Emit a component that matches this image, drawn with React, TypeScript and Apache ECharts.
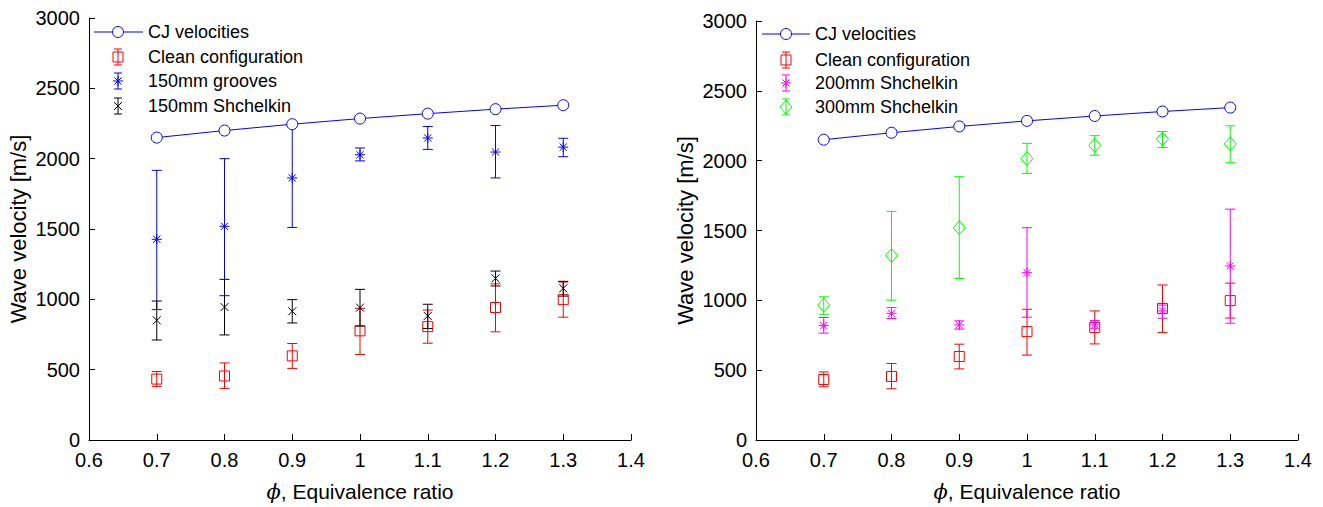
import React, { useEffect, useRef } from "react";
import * as echarts from "echarts";

// ---------------- data ----------------
const phi = [0.7, 0.8, 0.9, 1.0, 1.1, 1.2, 1.3];
const cjVelocities = [2150, 2200, 2245, 2285, 2320, 2352, 2380];

const cleanMean = [433, 455, 598, 776, 806, 942, 998];
const cleanLow = [381, 367, 509, 608, 688, 769, 873];
const cleanHigh = [487, 548, 686, 936, 924, 1110, 1123];

const grooves150Mean = [1427, 1519, 1863, 2028, 2147, 2047, 2082];
const grooves150Low = [927, 1026, 1511, 1984, 2066, 1863, 2014];
const grooves150High = [1917, 2000, 2248, 2076, 2229, 2236, 2145];

const shchelkin150Mean = [851, 945, 915, 941, 882, 1149, 1078];
const shchelkin150Low = [711, 747, 832, 810, 792, 1095, 1023];
const shchelkin150High = [988, 1142, 998, 1071, 965, 1201, 1128];

const shchelkin200Mean = [820, 907, 824, 1198, 824, 924, 1246];
const shchelkin200Low = [765, 870, 794, 879, 796, 872, 836];
const shchelkin200High = [877, 948, 853, 1520, 855, 966, 1653];

const shchelkin300Mean = [966, 1321, 1520, 2015, 2110, 2155, 2120];
const shchelkin300Low = [900, 1001, 1156, 1909, 2039, 2094, 1985];
const shchelkin300High = [1025, 1637, 1885, 2124, 2179, 2209, 2250];

const legendLeft = ["CJ velocities", "Clean configuration", "150mm grooves", "150mm Shchelkin"];
const legendRight = ["CJ velocities", "Clean configuration", "200mm Shchelkin", "300mm Shchelkin"];

const yAxisTitle = "Wave velocity [m/s]";
const xAxisTitle = "{i|ϕ}, Equivalence ratio";

// ---------------- styles ----------------
const FONT = "Liberation Sans, Arial, Helvetica, sans-serif";
const BLUE = "#0000ff";
const RED = "#ff0000";
const BLACK = "#000000";
const MAGENTA = "#ff00ff";
const GREEN = "#00ff00";
const TICK_FS = 20;
const YTITLE_FS = 22;
const XTITLE_FS = 21;

type Kind = "circle" | "square" | "asterisk" | "cross" | "diamond";

function markerShapes(kind: Kind, cx: number, cy: number, color: string): any[] {
  const st = { stroke: color, lineWidth: 1, fill: "none" };
  const ln = (x1: number, y1: number, x2: number, y2: number) => ({
    type: "line",
    shape: { x1, y1, x2, y2 },
    style: { stroke: color, lineWidth: 1 },
  });
  switch (kind) {
    case "circle":
      return [{ type: "circle", shape: { cx, cy, r: 5.5 }, style: { ...st, fill: "#fff" } }];
    case "square":
      return [{ type: "rect", shape: { x: cx - 5, y: cy - 5, width: 10, height: 10 }, style: st }];
    case "asterisk": {
      const r = 5;
      const d = 3.6;
      return [ln(cx - r, cy, cx + r, cy), ln(cx, cy - r, cx, cy + r), ln(cx - d, cy - d, cx + d, cy + d), ln(cx - d, cy + d, cx + d, cy - d)];
    }
    case "cross": {
      const d = 4;
      return [ln(cx - d, cy - d, cx + d, cy + d), ln(cx - d, cy + d, cx + d, cy - d)];
    }
    case "diamond":
      return [
        {
          type: "polygon",
          shape: { points: [[cx, cy - 7], [cx + 6, cy], [cx, cy + 7], [cx - 6, cy]] },
          style: st,
        },
      ];
  }
  return [];
}

function errorBarShapes(x: number, yTop: number, yBot: number, color: string, cap = 5): any[] {
  const s = { stroke: color, lineWidth: 1 };
  return [
    { type: "line", shape: { x1: x, y1: yTop, x2: x, y2: yBot }, style: s },
    { type: "line", shape: { x1: x - cap, y1: yTop, x2: x + cap, y2: yTop }, style: s },
    { type: "line", shape: { x1: x - cap, y1: yBot, x2: x + cap, y2: yBot }, style: s },
  ];
}

function errorSeries(name: string, mean: number[], low: number[], high: number[], kind: Kind, color: string, idx: number) {
  return {
    type: "custom",
    name,
    xAxisIndex: idx,
    yAxisIndex: idx,
    data: phi.map((x, i) => [x, mean[i], low[i], high[i]]),
    encode: { x: 0, y: [1, 2, 3] },
    renderItem: (params: any, api: any) => {
      const x = api.value(0);
      const c = api.coord([x, api.value(1)]);
      const lo = api.coord([x, api.value(2)]);
      const hi = api.coord([x, api.value(3)]);
      return {
        type: "group",
        children: [...errorBarShapes(c[0], hi[1], lo[1], color), ...markerShapes(kind, c[0], c[1], color)],
      };
    },
  };
}

function cjSeries(idx: number) {
  return {
    type: "line",
    name: "CJ velocities",
    xAxisIndex: idx,
    yAxisIndex: idx,
    data: phi.map((x, i) => [x, cjVelocities[i]]),
    symbol: "circle",
    symbolSize: 11,
    lineStyle: { color: BLUE, width: 1 },
    itemStyle: { color: "#ffffff", borderColor: BLUE, borderWidth: 1 },
  };
}

const GRIDS = [
  { left: 89, top: 18, width: 542, height: 423 },
  { left: 756, top: 21, width: 542, height: 422 },
];

function makeXAxis(idx: number) {
  return {
    type: "value",
    gridIndex: idx,
    min: 0.6,
    max: 1.4,
    interval: 0.1,
    axisLine: { show: true, onZero: false, lineStyle: { color: BLACK, width: 1 } },
    axisTick: { show: true, inside: true, length: 6, lineStyle: { color: BLACK } },
    axisLabel: {
      color: BLACK,
      fontSize: TICK_FS,
      fontFamily: FONT,
      margin: 10,
      formatter: (v: number) => String(parseFloat(v.toFixed(1))),
    },
    splitLine: { show: false },
    name: xAxisTitle,
    nameLocation: "middle",
    nameGap: 41,
    nameTextStyle: {
      color: BLACK,
      fontSize: XTITLE_FS,
      fontFamily: FONT,
      rich: { i: { fontStyle: "italic", fontSize: XTITLE_FS, fontFamily: "DejaVu Serif", color: BLACK } },
    },
  };
}

function makeYAxis(idx: number) {
  return {
    type: "value",
    gridIndex: idx,
    min: 0,
    max: 3000,
    interval: 500,
    axisLine: { show: true, onZero: false, lineStyle: { color: BLACK, width: 1 } },
    axisTick: { show: true, inside: true, length: 6, lineStyle: { color: BLACK } },
    axisLabel: {
      color: BLACK,
      fontSize: TICK_FS,
      fontFamily: FONT,
      margin: 9,
      formatter: (v: number) => String(Math.round(v)),
    },
    splitLine: { show: false },
    name: yAxisTitle,
    nameLocation: "middle",
    nameGap: 60,
    nameTextStyle: { color: BLACK, fontSize: YTITLE_FS, fontFamily: FONT },
  };
}

function legendGraphics(
  names: string[],
  kinds: Kind[],
  colors: string[],
  lineX0: number,
  lineX1: number,
  iconX: number,
  textX: number,
  rows: number[]
) {
  const out: any[] = [];
  names.forEach((n, i) => {
    const y = rows[i];
    const children: any[] = [];
    if (i === 0) {
      children.push({
        type: "line",
        shape: { x1: lineX0, y1: y, x2: lineX1, y2: y },
        style: { stroke: colors[i], lineWidth: 1 },
      });
      children.push(...markerShapes(kinds[i], iconX, y, colors[i]));
    } else {
      children.push(...errorBarShapes(iconX, y - 8, y + 8, colors[i], 4));
      children.push(...markerShapes(kinds[i], iconX, y, colors[i]));
    }
    children.push({
      type: "text",
      x: textX,
      y,
      style: { text: n, fill: BLACK, fontSize: 18, fontFamily: FONT, verticalAlign: "middle", align: "left" },
    });
    out.push({ type: "group", children });
  });
  return out;
}

export default function App() {
  const ref = useRef<HTMLDivElement>(null);
  useEffect(() => {
    if (!ref.current) return;
    const chart = echarts.init(ref.current, undefined, { renderer: "svg" });
    const option: any = {
      animation: false,
      backgroundColor: "#ffffff",
      textStyle: { fontFamily: FONT },
      grid: GRIDS.map((g) => ({ ...g, containLabel: false })),
      xAxis: [makeXAxis(0), makeXAxis(1)],
      yAxis: [makeYAxis(0), makeYAxis(1)],
      series: [
        cjSeries(0),
        errorSeries("Clean configuration", cleanMean, cleanLow, cleanHigh, "square", RED, 0),
        errorSeries("150mm grooves", grooves150Mean, grooves150Low, grooves150High, "asterisk", BLUE, 0),
        errorSeries("150mm Shchelkin", shchelkin150Mean, shchelkin150Low, shchelkin150High, "cross", BLACK, 0),
        cjSeries(1),
        errorSeries("Clean configuration", cleanMean, cleanLow, cleanHigh, "square", RED, 1),
        errorSeries("200mm Shchelkin", shchelkin200Mean, shchelkin200Low, shchelkin200High, "asterisk", MAGENTA, 1),
        errorSeries("300mm Shchelkin", shchelkin300Mean, shchelkin300Low, shchelkin300High, "diamond", GREEN, 1),
      ],
      graphic: [
        ...legendGraphics(
          legendLeft,
          ["circle", "square", "asterisk", "cross"],
          [BLUE, RED, BLUE, BLACK],
          94,
          143,
          118,
          148,
          [32, 57, 81, 106]
        ),
        ...legendGraphics(
          legendRight,
          ["circle", "square", "asterisk", "diamond"],
          [BLUE, RED, MAGENTA, GREEN],
          762,
          810,
          786,
          815,
          [34, 60, 83, 107]
        ),
      ],
    };
    chart.setOption(option);
    return () => chart.dispose();
  }, []);
  return (
    <div
      ref={ref}
      style={{ position: "fixed", left: 0, top: 0, width: 1323, height: 507, background: "#fff" }}
    />
  );
}
